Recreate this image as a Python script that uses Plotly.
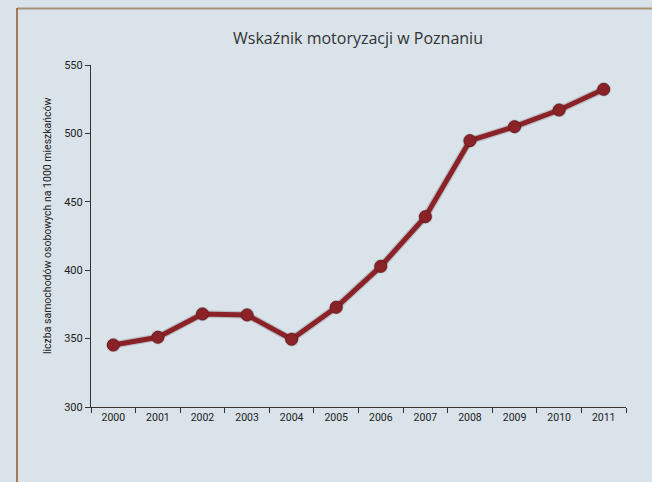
import plotly.graph_objects as go

years = ["2000", "2001", "2002", "2003", "2004", "2005", "2006", "2007", "2008", "2009", "2010", "2011"]
values = [345.3, 351.0, 368.0, 367.3, 349.5, 372.9, 402.8, 439.1, 494.7, 504.9, 517.1, 532.2]
y_ticks = [300, 350, 400, 450, 500, 550]

title_text = "Wskaźnik motoryzacji w Poznaniu"
y_title = "liczba samochodów osobowych na 1000 mieszkańców"

BG = "#d9e3e9"
RED = "#8b2227"
FONT = "Roboto, sans-serif"

fig = go.Figure()
# soft shadow under line
fig.add_trace(go.Scatter(
    x=years, y=values, mode="lines+markers",
    line=dict(color="rgba(20,10,10,0.16)", width=7.5),
    marker=dict(size=14.5, color="rgba(20,10,10,0.16)"),
    hoverinfo="skip", showlegend=False,
))
fig.add_trace(go.Scatter(
    x=years, y=values, mode="lines+markers",
    line=dict(color=RED, width=5),
    marker=dict(size=12, color=RED, line=dict(color="#6e1a1e", width=1)),
    showlegend=False,
))

fig.update_layout(
    width=652, height=482,
    paper_bgcolor=BG, plot_bgcolor=BG,
    margin=dict(l=91, r=26, t=65, b=75),
    title=dict(text=title_text, x=358 / 652, xanchor="center", y=1 - 38 / 482, yanchor="middle",
               font=dict(family="Open Sans, DejaVu Sans, sans-serif", size=16, color="#333333")),
    font=dict(family=FONT, size=11, color="#222222"),
    xaxis=dict(
        type="category", range=[-0.5, 11.5], tickson="boundaries",
        showline=True, linecolor="#333333", linewidth=1.2,
        ticks="outside", ticklen=5, tickcolor="#333333", tickwidth=1.2,
        showgrid=False, zeroline=False,
        tickfont=dict(family=FONT, size=10.5, color="#222222"),
    ),
    yaxis=dict(
        range=[300, 550], tickvals=y_ticks,
        showline=True, linecolor="#333333", linewidth=1.2,
        ticks="outside", ticklen=5, tickcolor="#333333", tickwidth=1.2,
        showgrid=False, zeroline=False,
        tickfont=dict(family=FONT, size=11, color="#222222"),
    ),
    annotations=[
        dict(text=y_title, textangle=-90, xref="paper", yref="paper",
             x=(48 - 91) / 535, y=(407 - 226) / 342, xanchor="center", yanchor="middle",
             showarrow=False, font=dict(family=FONT, size=10.5, color="#222222")),
    ],
    shapes=[
        dict(type="line", xref="paper", yref="paper",
             x0=(17 - 91) / 535, x1=(652 - 91) / 535,
             y0=(407 - 8.5) / 342, y1=(407 - 8.5) / 342,
             line=dict(color="#a8937a", width=2)),
        dict(type="line", xref="paper", yref="paper",
             x0=(17 - 91) / 535, x1=(17 - 91) / 535,
             y0=(407 - 8) / 342, y1=(407 - 482) / 342,
             line=dict(color="#a07a58", width=2)),
    ],
)

fig.write_html(
    "out.html",
    config={"displayModeBar": False},
    post_script="document.body.style.margin='0';document.body.style.background='#d9e3e9';document.body.style.overflow='hidden';",
)
